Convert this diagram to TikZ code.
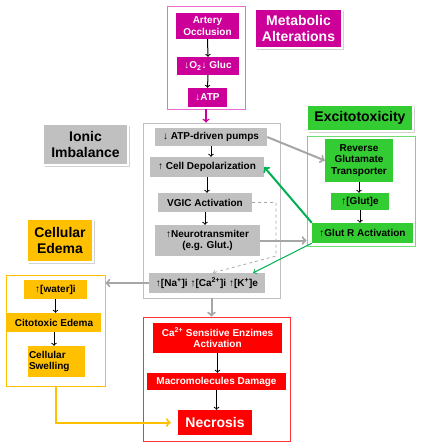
\documentclass[tikz,border=0pt]{standalone}
\usepackage{fontspec}
\setmainfont{Liberation Sans}
\usetikzlibrary{shadows}
\definecolor{magen}{HTML}{CC0099}
\definecolor{magenline}{HTML}{E86DD0}
\definecolor{greyfill}{HTML}{C0C0C0}
\definecolor{greyline}{HTML}{A6A6A6}
\definecolor{greenfill}{HTML}{33CC33}
\definecolor{greenline}{HTML}{70DD70}
\definecolor{greenarrow}{HTML}{00B050}
\definecolor{orangefill}{HTML}{FFC000}
\definecolor{redfill}{HTML}{FF0000}
\definecolor{redline}{HTML}{FF3333}
\tikzset{
	stepnode/.style={inner sep=1pt, align=center, font=\fontsize{10}{11.5}\selectfont\bfseries},
	titlenode/.style={draw=white, line width=1.5pt, inner sep=2pt, align=center,
		font=\fontsize{14}{16}\selectfont\bfseries,
		drop shadow={shadow xshift=1.5pt, shadow yshift=-1.5pt, opacity=0.35}},
	groupbox/.style={draw, line width=0.8pt, fill=white},
	flow/.style={->, line width=1pt, black},
	link/.style={->, line width=2pt, greyline},
}
\begin{document}
\begin{tikzpicture}[x=1pt, y=-1pt]
			\useasboundingbox (0,0) rectangle (422,448);
			\node (metabox)  at (206,57.5)    [groupbox, draw=magenline, minimum width=78pt, minimum height=103pt] {};
			\node (graybox)  at (211.5,210.5) [groupbox, draw=greyfill, minimum width=137pt, minimum height=175pt] {};
			\node (greenbox) at (361,191)     [groupbox, draw=greenline, minimum width=108pt, minimum height=110pt] {};
			\node (edemabox) at (55.5,330.5)  [groupbox, draw=orangefill, minimum width=99pt, minimum height=111pt] {};
			\node (redbox)   at (216.5,379)   [groupbox, draw=redline, minimum width=147pt, minimum height=124pt] {};
			\node (metab) at (298.5,28.5) [titlenode, fill=magen, text=white, minimum width=87pt, minimum height=39pt] {Metabolic\\Alterations};
			\node (ionic) at (85.5,144.5) [titlenode, fill=greyfill, minimum width=85pt, minimum height=41pt] {Ionic\\Imbalance};
			\node (excit) at (360,118)    [titlenode, fill=greenfill, minimum width=106pt, minimum height=26pt] {Excitotoxicity};
			\node (edema) at (60,240.5)   [titlenode, fill=orangefill, minimum width=66pt, minimum height=43pt] {Cellular\\Edema};
			\node (artery) at (207.5,26) [stepnode, fill=magen, text=white, minimum width=63pt, minimum height=26pt] {Artery\\Occlusion};
			\node (oxygen) at (208,66)   [stepnode, fill=magen, text=white, minimum width=62pt, minimum height=18pt] {↓O\textsubscript{2}↓ Gluc};
			\node (atp)    at (207.5,97.5) [stepnode, fill=magen, text=white, minimum width=39pt, minimum height=19pt] {↓ATP};
			\node (pumps) at (211,137)    [stepnode, fill=greyfill, minimum width=112pt, minimum height=18pt] {↓ ATP-driven pumps};
			\node (depol) at (207,167)    [stepnode, fill=greyfill, minimum width=114pt, minimum height=20pt] {↑ Cell Depolarization};
			\node (vgic)  at (205,202.5)  [stepnode, fill=greyfill, minimum width=94pt, minimum height=19pt] {VGIC Activation};
			\node (neuro) at (207.5,240.5) [stepnode, fill=greyfill, minimum width=105pt, minimum height=31pt] {↑Neurotransmiter\\(e.g. Glut.)};
			\node (ions)  at (207,283)    [stepnode, fill=greyfill, minimum width=116pt, minimum height=20pt] {↑[Na\textsuperscript{+}]i ↑[Ca\textsuperscript{2+}]i ↑[K\textsuperscript{+}]e};
			\node (revglut) at (359,160.5) [stepnode, fill=greenfill, minimum width=68pt, minimum height=43pt] {Reverse\\Glutamate\\Transporter};
			\node (glut)    at (360,201.5) [stepnode, fill=greenfill, minimum width=58pt, minimum height=17pt] {↑[Glut]e};
			\node (glutr)   at (362.5,233) [stepnode, fill=greenfill, minimum width=101pt, minimum height=20pt] {↑Glut R Activation};
			\node (water) at (55.5,289.5) [stepnode, fill=orangefill, minimum width=63pt, minimum height=19pt] {↑[water]i};
			\node (cito)  at (54,322.5)   [stepnode, fill=orangefill, minimum width=94pt, minimum height=19pt] {Citotoxic Edema};
			\node (swell) at (56.5,361.5) [stepnode, fill=orangefill, text width=55pt, align=left, minimum height=31pt] {Cellular\\Swelling};
			\node (enzymes) at (217.5,338) [stepnode, fill=redfill, text=white, minimum width=129pt, minimum height=30pt] {Ca\textsuperscript{2+} Sensitive Enzimes\\Activation};
			\node (macro)   at (216.5,381.5) [stepnode, fill=redfill, text=white, minimum width=139pt, minimum height=17pt] {Macromolecules Damage};
			\node (necro)   at (215,422.5) [stepnode, fill=redfill, text=white, font=\fontsize{14}{16}\selectfont\bfseries, minimum width=74pt, minimum height=25pt] {Necrosis};
			\coordinate (dashtop) at (276,202.5);
			\coordinate (dashlow) at (276,256);
			\draw[flow] (artery.south) -- (oxygen.north);
			\draw[flow] (oxygen.south) -- (atp.north);
			\draw[flow] (pumps.south) -- (pumps.south |- depol.north);
			\draw[flow] (depol.south) -- (depol.south |- vgic.north);
			\draw[flow] (vgic.south) -- (vgic.south |- neuro.north);
			\draw[flow] (revglut.south) -- (revglut.south |- glut.north);
			\draw[flow] (glut.south) -- (glut.south |- glutr.north);
			\draw[flow] (water.south) -- (water.south |- cito.north);
			\draw[flow] (cito.south) -- (cito.south |- swell.north);
			\draw[flow] (enzymes.south) -- (enzymes.south |- macro.north);
			\draw[flow] (macro.south) -- (macro.south |- necro.north);
			\draw[->, line width=1.5pt, magen] (metabox.south) -- (metabox.south |- graybox.north);
			\draw[link] (pumps.east) -- (revglut.west);
			\draw[link] (neuro.east) -- (neuro.east -| greenbox.west);
			\draw[link] (ions.west) -- (ions.west -| edemabox.east);
			\draw[link] (graybox.south) -- (graybox.south |- redbox.north);
			\draw[->, dashed, line width=0.7pt, greyline] (vgic.east) -- (dashtop) -- (dashlow) -- ([xshift=6pt]ions.north);
			\draw[->, line width=2pt, greenarrow] (glutr.north west) -- (depol.east);
			\draw[->, line width=1pt, greenarrow] (glutr.south west) -- ([xshift=-12pt]ions.north east);
			\draw[->, line width=2pt, orangefill] (edemabox.south) |- ([xshift=-7pt]necro.west);
\end{tikzpicture}
\end{document}
